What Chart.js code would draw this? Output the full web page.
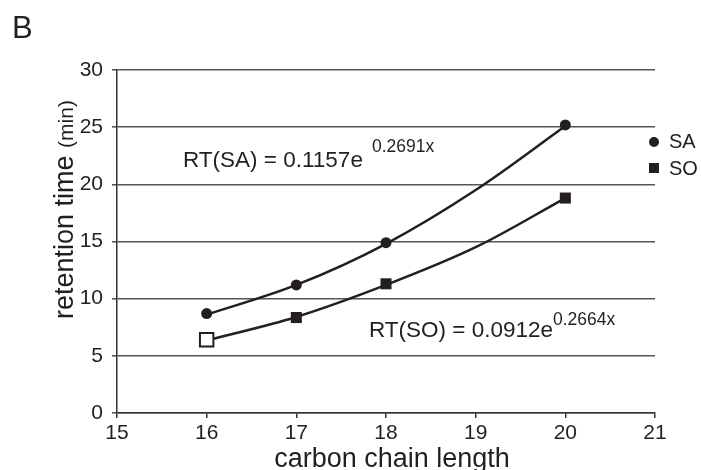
<!DOCTYPE html>
<html>
<head>
<meta charset="utf-8">
<script src="https://cdn.jsdelivr.net/npm/chart.js@4/dist/chart.umd.min.js"></script>
<style>
  html, body { margin: 0; padding: 0; background: #fff; }
  #wrap { width: 702px; height: 470px; position: relative; }
</style>
</head>
<body>
<div id="wrap"><canvas id="chartRT" width="702" height="470"></canvas></div>
<script>
// datos
const seriesNames = ["SA", "SO"];
const chainLength = [16, 17, 18, 20];
const rtSA = [8.7, 11.2, 14.9, 25.2];
const rtSO = [6.4, 8.35, 11.3, 18.8];

// curvas de ajuste
const fitX = [16, 17, 18, 19, 20];
const fitSA = [8.6, 11.2, 14.8, 19.5, 25.1];
const fitSO = [6.35, 8.4, 11.2, 14.5, 18.8];

const xTicks = [15, 16, 17, 18, 19, 20, 21];
const yTicks = [0, 5, 10, 15, 20, 25, 30];

const eqSA = ["RT(SA) = 0.1157e", "0.2691x"];
const eqSO = ["RT(SO) = 0.0912e", "0.2664x"];
const xTitle = "carbon chain length";
const yTitle = ["retention time ", "(min)"];
const panelLabel = "B";

const FONT = "'Liberation Sans', Arial, sans-serif";
const INK = "#231f20";

const toPts = (xs, ys) => xs.map((x, i) => ({ x: x, y: ys[i] }));

// textos extra: letra del panel, ecuaciones, titulos y leyenda
const textos = {
    id: "textos",
    afterDraw(chart) {
        const ctx = chart.ctx;
        const area = chart.chartArea;
        ctx.save();
        ctx.fillStyle = INK;
        ctx.textAlign = "left";
        ctx.textBaseline = "alphabetic";

        ctx.font = "31px " + FONT;
        ctx.fillText(panelLabel, 12, 38);

        ctx.font = "22.5px " + FONT;
        ctx.fillText(eqSA[0], 183, 167);
        ctx.fillText(eqSO[0], 369, 337);
        ctx.font = "17.5px " + FONT;
        ctx.fillText(eqSA[1], 372, 152);
        ctx.fillText(eqSO[1], 553, 325);

        // titulo eje x
        ctx.font = "27px " + FONT;
        ctx.textAlign = "center";
        ctx.fillText(xTitle, (area.left + area.right) / 2 + 6, 467);

        // titulo eje y (dos tamaños)
        ctx.translate(73, 319);
        ctx.rotate(-Math.PI / 2);
        ctx.textAlign = "left";
        ctx.font = "27px " + FONT;
        ctx.fillText(yTitle[0], 0, 0);
        const w = ctx.measureText(yTitle[0]).width;
        ctx.font = "21px " + FONT;
        ctx.fillText(yTitle[1], w, 0);
        ctx.restore();

        // leyenda
        ctx.save();
        ctx.fillStyle = INK;
        ctx.beginPath();
        ctx.arc(654, 142, 5, 0, Math.PI * 2);
        ctx.fill();
        ctx.fillRect(649, 163, 10, 10);
        ctx.font = "20px " + FONT;
        ctx.fillText(seriesNames[0], 669, 148);
        ctx.fillText(seriesNames[1], 669, 175);
        ctx.restore();
    }
};

const ctxRT = document.getElementById("chartRT");

new Chart(ctxRT, {
    type: "scatter",
    data: {
        datasets: [
            {
                label: seriesNames[0],
                data: toPts(chainLength, rtSA),
                pointStyle: "circle",
                pointRadius: 5.5,
                pointBackgroundColor: INK,
                pointBorderWidth: 0,
                showLine: false,
                order: 0
            },
            {
                label: seriesNames[1],
                data: toPts(chainLength, rtSO),
                pointStyle: "rect",
                pointRadius: ctx => ctx.dataIndex === 0 ? 9.5 : 7.8,
                pointBackgroundColor: ctx => ctx.dataIndex === 0 ? "#fff" : INK,
                pointBorderColor: INK,
                pointBorderWidth: ctx => ctx.dataIndex === 0 ? 2 : 0,
                showLine: false,
                order: 0
            },
            {
                label: "fit SA",
                data: toPts(fitX, fitSA),
                showLine: true,
                borderColor: INK,
                borderWidth: 2.5,
                pointRadius: 0,
                tension: 0.35,
                order: 1
            },
            {
                label: "fit SO",
                data: toPts(fitX, fitSO),
                showLine: true,
                borderColor: INK,
                borderWidth: 2.5,
                pointRadius: 0,
                tension: 0.35,
                order: 1
            }
        ]
    },
    options: {
        responsive: false,
        animation: false,
        layout: { padding: { left: 0, right: 47, top: 70, bottom: 0 } },
        plugins: {
            legend: { display: false },
            tooltip: { enabled: false }
        },
        scales: {
            x: {
                type: "linear",
                min: xTicks[0],
                max: xTicks[xTicks.length - 1],
                afterBuildTicks: s => { s.ticks = xTicks.map(v => ({ value: v })); },
                afterFit: s => { s.height = 57; },
                ticks: { color: INK, padding: 3, maxRotation: 0, font: { family: FONT, size: 21 } },
                grid: { drawOnChartArea: false, drawTicks: true, tickLength: 5, color: "#333", lineWidth: 1.5 },
                border: { color: "#333", width: 1.5 }
            },
            y: {
                min: yTicks[0],
                max: yTicks[yTicks.length - 1],
                afterBuildTicks: s => { s.ticks = yTicks.map(v => ({ value: v })); },
                afterFit: s => { s.width = 117; },
                ticks: { color: INK, padding: 9, font: { family: FONT, size: 21 } },
                grid: { color: "#555", lineWidth: 1.6, tickLength: 5 },
                border: { color: "#333", width: 1.5 }
            }
        }
    },
    plugins: [textos]
});
</script>
</body>
</html>
